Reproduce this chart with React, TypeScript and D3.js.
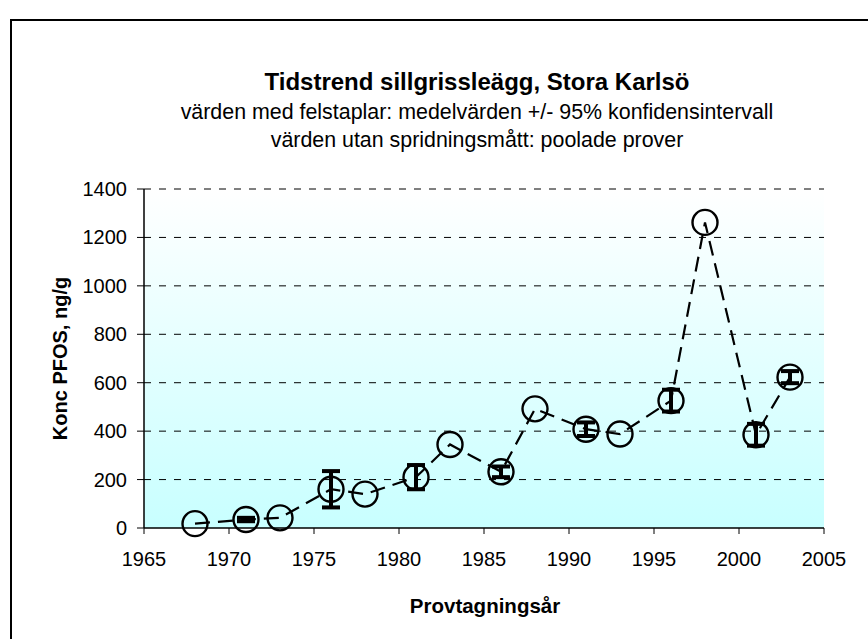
import React from "react";
import * as d3 from "d3";

const years = [1968, 1971, 1973, 1976, 1978, 1981, 1983, 1986, 1988, 1991, 1993, 1996, 1998, 2001, 2003];
const values = [18, 35, 42, 160, 140, 210, 345, 232, 492, 408, 388, 526, 1262, 385, 623];
const ciHalf = [null, 7, null, 75, null, 50, null, 22, null, 28, null, 45, null, 45, 25];
const xTicks = [1965, 1970, 1975, 1980, 1985, 1990, 1995, 2000, 2005];
const yTicks = [0, 200, 400, 600, 800, 1000, 1200, 1400];

const titleText = "Tidstrend sillgrissleägg, Stora Karlsö";
const subtitle1 = "värden med felstaplar: medelvärden +/- 95% konfidensintervall";
const subtitle2 = "värden utan spridningsmått: poolade prover";
const yLabel = "Konc PFOS, ng/g";
const xLabel = "Provtagningsår";

const W = 868;
const H = 639;
const left = 144;
const right = 824;
const top = 189;
const bottom = 528;
const font = "Arial, 'Liberation Sans', sans-serif";

export default function App() {
  const x = d3.scaleLinear().domain([1965, 2005]).range([left, right]);
  const y = d3.scaleLinear().domain([0, 1400]).range([bottom, top]);
  const pts = years.map((yr, i) => ({ yr, v: values[i], ci: ciHalf[i] }));
  const line = d3
    .line<{ yr: number; v: number }>()
    .x((d) => x(d.yr))
    .y((d) => y(d.v));

  return (
    <svg
      width={W}
      height={H}
      style={{ position: "absolute", left: 0, top: 0, background: "#fff" }}
      fontFamily={font}
    >
      <defs>
        <linearGradient id="bg" x1="0" y1="0" x2="0" y2="1">
          <stop offset="0" stopColor="#ffffff" />
          <stop offset="1" stopColor="#c8ffff" />
        </linearGradient>
      </defs>
      <rect x={0} y={0} width={W} height={H} fill="#fff" />
      <rect x={11} y={20} width={W + 10} height={H + 10} fill="none" stroke="#000" strokeWidth={2} />

      <rect x={left} y={top} width={right - left} height={bottom - top} fill="url(#bg)" />

      {yTicks
        .filter((t) => t > 0)
        .map((t) => (
          <line
            key={"g" + t}
            x1={left}
            x2={right}
            y1={y(t)}
            y2={y(t)}
            stroke="#000"
            strokeWidth={1}
            strokeDasharray="7,8"
          />
        ))}

      {/* axes */}
      <line x1={left} x2={left} y1={top} y2={bottom} stroke="#000" strokeWidth={1.5} />
      <line x1={left} x2={right} y1={bottom} y2={bottom} stroke="#000" strokeWidth={1.5} />
      {yTicks.map((t) => (
        <g key={"yt" + t}>
          <line x1={left - 7} x2={left} y1={y(t)} y2={y(t)} stroke="#000" strokeWidth={1} />
          <text x={127} y={y(t) + 7} textAnchor="end" fontSize={20}>
            {t}
          </text>
        </g>
      ))}
      {xTicks.map((t) => (
        <g key={"xt" + t}>
          <line x1={x(t)} x2={x(t)} y1={bottom} y2={bottom + 6} stroke="#000" strokeWidth={1} />
          <text x={x(t)} y={566} textAnchor="middle" fontSize={20}>
            {t}
          </text>
        </g>
      ))}

      {/* data line */}
      <path d={line(pts) || ""} fill="none" stroke="#000" strokeWidth={2.2} strokeDasharray="15,8" />

      {/* error bars */}
      {pts
        .filter((p) => p.ci != null)
        .map((p) => {
          const cx = x(p.yr);
          const y1 = y(p.v + (p.ci as number));
          const y2 = y(p.v - (p.ci as number));
          return (
            <g key={"e" + p.yr} stroke="#000" strokeWidth={4}>
              <line x1={cx} x2={cx} y1={y1} y2={y2} />
              <line x1={cx - 9} x2={cx + 9} y1={y1} y2={y1} />
              <line x1={cx - 9} x2={cx + 9} y1={y2} y2={y2} />
            </g>
          );
        })}

      {/* markers */}
      {pts.map((p) => (
        <circle key={"c" + p.yr} cx={x(p.yr)} cy={y(p.v)} r={12.5} fill="none" stroke="#000" strokeWidth={2.4} />
      ))}

      {/* titles */}
      <text x={477} y={90} textAnchor="middle" fontSize={24} fontWeight="bold">
        {titleText}
      </text>
      <text x={477} y={119} textAnchor="middle" fontSize={21.4}>
        {subtitle1}
      </text>
      <text x={477} y={147} textAnchor="middle" fontSize={21.4}>
        {subtitle2}
      </text>
      <text
        transform={`translate(67,${(top + bottom) / 2}) rotate(-90)`}
        textAnchor="middle"
        fontSize={20}
        fontWeight="bold"
      >
        {yLabel}
      </text>
      <text x={485} y={613} textAnchor="middle" fontSize={20.5} fontWeight="bold">
        {xLabel}
      </text>
    </svg>
  );
}
